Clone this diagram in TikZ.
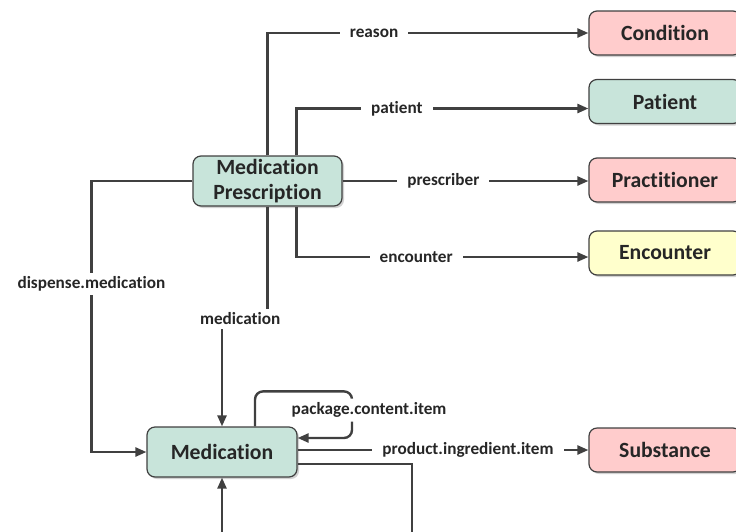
\documentclass[tikz,border=0pt]{standalone}
\usepackage{fontspec}
\setmainfont{Carlito}[Ligatures=NoCommon]
\usetikzlibrary{arrows.meta,shadows}
\definecolor{mintfill}{RGB}{200,228,218}
\definecolor{rosefill}{RGB}{255,204,204}
\definecolor{creamfill}{RGB}{255,255,204}
\tikzset{
	resource/.style={draw=black!75, line width=1.2pt, rounded corners=8pt, align=center, inner sep=2pt,
		minimum width=152pt, minimum height=44pt, text=black!85, font=\fontsize{21.7}{25}\selectfont\bfseries,
		drop shadow={shadow xshift=2pt, shadow yshift=-2pt, fill=black!35}},
	greenbox/.style={resource, fill=mintfill},
	pinkbox/.style={resource, fill=rosefill},
	yellowbox/.style={resource, fill=creamfill},
	link/.style={draw=black!75, line width=2.4pt, -{Triangle[length=11pt,width=9pt]}},
	lbl/.style={fill=white, inner xsep=10pt, inner ysep=4pt, text=black!85, font=\fontsize{17.2}{19}\selectfont\bfseries},
}

\begin{document}
\begin{tikzpicture}[x=1pt,y=-1pt]
			\useasboundingbox (0,0) rectangle (736,531);
			\clip (0,0) rectangle (736,531);
			
			%%%%% BOXES %%%%%
			\node[greenbox, minimum width=149pt, minimum height=50pt] (prescription) at (267.5,181) {Medication\\Prescription};
			\node[greenbox, minimum width=150pt, minimum height=50pt] (medication) at (222,452) {Medication};
			
			\node[pinkbox] (condition) at (665,33) {Condition};
			\node[greenbox] (patient) at (665,101.5) {Patient};
			\node[pinkbox] (practitioner) at (665,180) {Practitioner};
			\node[yellowbox] (encounter) at (665,253) {Encounter};
			\node[pinkbox] (substance) at (665,450) {Substance};
			
			% the two lines run on below the picture
			\coordinate (below left) at (222,545);
			\coordinate (below right) at (412,545);
			
			%%%%% LINKS %%%%%
			\draw[link] (prescription.north) |- node[lbl, pos=0.666] {reason} (condition.west);
			\draw[link] ([xshift=29pt]prescription.north) |- node[lbl, pos=0.672] {patient} ([yshift=-7pt]patient.west);
			\draw[link] (prescription.east) -- node[lbl, pos=0.41] {prescriber} (prescription.east -| practitioner.west);
			\draw[link] ([xshift=29pt]prescription.south) |- node[lbl, pos=0.705] {encounter} ([yshift=-4pt]encounter.west);
			
			\draw[link] (prescription.south) -- ++(0,112) -| node[lbl, pos=0.3] {medication} (medication.north);
			\draw[link] (prescription.west) -- ++(-101,0) |- node[lbl, pos=0.19] {dispense.medication} (medication.west);
			
			\draw[link, rounded corners=8pt] ([xshift=33pt]medication.north) -- ++(0,-35) -- ++(97,0) |- node[lbl, pos=0.2, xshift=17pt] {package.content.item} ([yshift=14pt]medication.east);
			\draw[link] ([yshift=2pt]medication.east) -- node[lbl, pos=0.586] {product.ingredient.item} (substance.west);
			
			\draw[link] (below left) -- (medication.south);
			\draw[link, -] ([yshift=-12pt]medication.east) -| (below right);
			
\end{tikzpicture}
\end{document}
